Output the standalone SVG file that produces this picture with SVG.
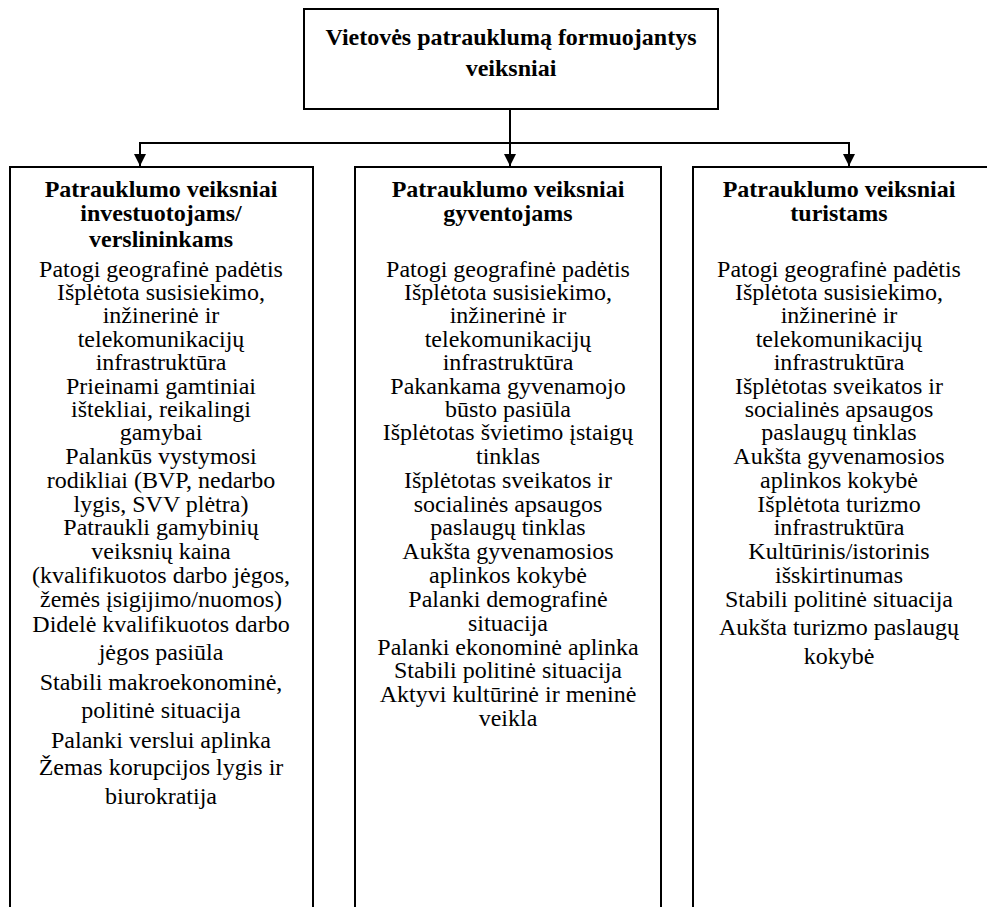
<svg xmlns="http://www.w3.org/2000/svg" width="987" height="907" viewBox="0 0 987 907">
  <style>
    .box { fill: #ffffff; stroke: #000000; stroke-width: 2; }
    .wire { fill: none; stroke: #000000; stroke-width: 2; }
    text { font-family: "Liberation Serif", "Times New Roman", serif; font-size: 24px; fill: #000000; text-anchor: middle; }
    .h { font-weight: bold; }
  </style>
  <defs>
    <marker id="arrowhead" viewBox="0 0 12 12" refX="12" refY="6" markerWidth="12" markerHeight="12" markerUnits="userSpaceOnUse" orient="auto">
      <path d="M0,0 L12,6 L0,12 Z" fill="#000000"/>
    </marker>
  </defs>
  <rect width="987" height="907" fill="#ffffff"/>

  <!-- connectors -->
  <g id="connectors">
    <line class="wire" x1="510" y1="109" x2="510" y2="166" marker-end="url(#arrowhead)"/>
    <polyline class="wire" points="140,166 140,143 849,143 849,166"/>
    <line class="wire" x1="140" y1="143" x2="140" y2="166" marker-end="url(#arrowhead)"/>
    <line class="wire" x1="849" y1="143" x2="849" y2="166" marker-end="url(#arrowhead)"/>
  </g>

  <!-- root -->
  <g id="root">
    <rect class="box" x="304" y="9" width="414" height="100"/>
    <text class="h" x="511" y="45">Vietovės patrauklumą formuojantys</text>
    <text class="h" x="511" y="76">veiksniai</text>
  </g>

  <!-- investors / entrepreneurs -->
  <g id="investors">
    <rect class="box" x="10" y="167" width="303" height="760"/>
    <text class="h" x="161" y="197">Patrauklumo veiksniai</text>
    <text class="h" x="161" y="221">investuotojams/</text>
    <text class="h" x="161" y="247">verslininkams</text>
    <text x="161" y="277">Patogi geografinė padėtis</text>
    <text x="161" y="300">Išplėtota susisiekimo,</text>
    <text x="161" y="323">inžinerinė ir</text>
    <text x="161" y="347">telekomunikacijų</text>
    <text x="161" y="370">infrastruktūra</text>
    <text x="161" y="394">Prieinami gamtiniai</text>
    <text x="161" y="417">ištekliai, reikalingi</text>
    <text x="161" y="440">gamybai</text>
    <text x="161" y="464">Palankūs vystymosi</text>
    <text x="161" y="488">rodikliai (BVP, nedarbo</text>
    <text x="161" y="512">lygis, SVV plėtra)</text>
    <text x="161" y="535">Patraukli gamybinių</text>
    <text x="161" y="559">veiksnių kaina</text>
    <text x="161" y="583">(kvalifikuotos darbo jėgos,</text>
    <text x="161" y="607">žemės įsigijimo/nuomos)</text>
    <text x="161" y="632">Didelė kvalifikuotos darbo</text>
    <text x="161" y="660">jėgos pasiūla</text>
    <text x="161" y="690">Stabili makroekonominė,</text>
    <text x="161" y="718">politinė situacija</text>
    <text x="161" y="748">Palanki verslui aplinka</text>
    <text x="161" y="775">Žemas korupcijos lygis ir</text>
    <text x="161" y="804">biurokratija</text>
  </g>

  <!-- residents -->
  <g id="residents">
    <rect class="box" x="355" y="167" width="306" height="760"/>
    <text class="h" x="508" y="197">Patrauklumo veiksniai</text>
    <text class="h" x="508" y="221">gyventojams</text>
    <text x="508" y="277">Patogi geografinė padėtis</text>
    <text x="508" y="300">Išplėtota susisiekimo,</text>
    <text x="508" y="323">inžinerinė ir</text>
    <text x="508" y="347">telekomunikacijų</text>
    <text x="508" y="370">infrastruktūra</text>
    <text x="508" y="394">Pakankama gyvenamojo</text>
    <text x="508" y="417">būsto pasiūla</text>
    <text x="508" y="440">Išplėtotas švietimo įstaigų</text>
    <text x="508" y="464">tinklas</text>
    <text x="508" y="488">Išplėtotas sveikatos ir</text>
    <text x="508" y="512">socialinės apsaugos</text>
    <text x="508" y="535">paslaugų tinklas</text>
    <text x="508" y="559">Aukšta gyvenamosios</text>
    <text x="508" y="583">aplinkos kokybė</text>
    <text x="508" y="607">Palanki demografinė</text>
    <text x="508" y="631">situacija</text>
    <text x="508" y="655">Palanki ekonominė aplinka</text>
    <text x="508" y="678">Stabili politinė situacija</text>
    <text x="508" y="702">Aktyvi kultūrinė ir meninė</text>
    <text x="508" y="726">veikla</text>
  </g>

  <!-- tourists -->
  <g id="tourists">
    <rect class="box" x="693" y="167" width="300" height="760"/>
    <text class="h" x="839" y="197">Patrauklumo veiksniai</text>
    <text class="h" x="839" y="221">turistams</text>
    <text x="839" y="277">Patogi geografinė padėtis</text>
    <text x="839" y="300">Išplėtota susisiekimo,</text>
    <text x="839" y="323">inžinerinė ir</text>
    <text x="839" y="347">telekomunikacijų</text>
    <text x="839" y="370">infrastruktūra</text>
    <text x="839" y="394">Išplėtotas sveikatos ir</text>
    <text x="839" y="417">socialinės apsaugos</text>
    <text x="839" y="440">paslaugų tinklas</text>
    <text x="839" y="464">Aukšta gyvenamosios</text>
    <text x="839" y="488">aplinkos kokybė</text>
    <text x="839" y="512">Išplėtota turizmo</text>
    <text x="839" y="535">infrastruktūra</text>
    <text x="839" y="559">Kultūrinis/istorinis</text>
    <text x="839" y="583">išskirtinumas</text>
    <text x="839" y="607">Stabili politinė situacija</text>
    <text x="839" y="635">Aukšta turizmo paslaugų</text>
    <text x="839" y="664">kokybė</text>
  </g>
</svg>
